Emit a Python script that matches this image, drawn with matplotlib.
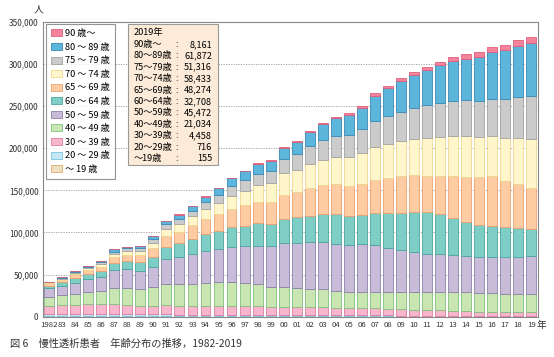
import matplotlib.pyplot as plt
import numpy as np
from matplotlib.patches import Patch, Rectangle

plt.rcParams['font.family'] = ['Noto Sans CJK JP', 'DejaVu Sans']

# 年次
years = list(range(1982, 2020))
year_labels = ['1982'] + ['%02d' % (y % 100) for y in years[1:]]

# 年齢階級別 患者数（千人, 図から読み取り）
u19 = [0.45, 0.45, 0.45, 0.45, 0.45, 0.45, 0.45, 0.4, 0.4, 0.4, 0.4, 0.35, 0.35, 0.35, 0.3, 0.3, 0.3, 0.3, 0.3,
       0.25, 0.25, 0.25, 0.25, 0.2, 0.2, 0.2, 0.2, 0.2, 0.2, 0.2, 0.2, 0.2, 0.2, 0.2, 0.15, 0.15, 0.15, 0.155]
a20 = [2.8, 2.8, 2.7, 2.6, 2.5, 2.4, 2.3, 2.2, 2.2, 2.2, 2.1, 2.1, 2.0, 2.0, 1.9, 1.9, 1.8, 1.8, 1.7,
       1.6, 1.6, 1.5, 1.4, 1.4, 1.3, 1.2, 1.2, 1.1, 1.1, 1.0, 1.0, 0.9, 0.9, 0.8, 0.8, 0.8, 0.75, 0.716]
a30 = [9.45, 10.65, 10.75, 11.65, 11.75, 11.85, 11.15, 10.1, 10.1, 10.9, 10.2, 10.25, 10.35, 10.35, 10.5, 10.5,
       10.2, 9.8, 9.9, 10.05, 10.05, 9.35, 8.65, 8.3, 8.4, 8.5, 7.7, 7.4, 6.6, 6.3, 6.3, 6.0, 5.2, 5.0, 4.65,
       4.25, 4.3, 4.458]
a40 = [11.1, 11.5, 13.1, 14.3, 15.5, 19.0, 19.8, 20.2, 22.2, 25.0, 25.8, 26.2, 27.4, 28.2, 28.6, 27.8, 26.6,
       23.8, 23.0, 21.8, 21.0, 21.4, 20.7, 19.9, 19.1, 19.9, 20.3, 20.7, 21.5, 21.9, 21.9, 22.3, 22.7, 21.8,
       22.2, 21.8, 21.4, 21.034]
a50 = [10.7, 11.5, 13.5, 15.4, 17.4, 21.9, 22.6, 21.5, 24.6, 29.8, 32.1, 35.3, 37.7, 39.3, 41.2, 43.6, 45.6,
       48.4, 52.4, 53.6, 55.6, 55.6, 55.5, 55.5, 56.7, 55.1, 52.7, 50.0, 47.6, 45.6, 44.8, 43.6, 42.8, 42.8,
       43.6, 44.4, 44.8, 45.472]
a60 = [2.5, 4.0, 5.5, 6.4, 6.8, 7.9, 10.0, 11.1, 11.9, 15.0, 16.7, 17.9, 20.2, 21.8, 23.8, 23.0, 26.6, 26.2,
       28.6, 30.6, 31.3, 34.1, 35.3, 34.5, 34.9, 38.1, 40.9, 43.6, 47.2, 49.6, 47.6, 44.1, 40.5, 38.5, 36.1,
       34.6, 33.8, 32.708]
a65 = [2.5, 2.8, 4.4, 4.8, 5.1, 7.1, 6.7, 7.5, 9.6, 12.7, 13.5, 16.2, 17.9, 19.8, 21.9, 25.0, 25.4, 26.2,
       28.9, 30.5, 33.0, 33.8, 35.3, 35.8, 37.3, 39.7, 42.1, 44.5, 43.7, 42.9, 45.7, 50.4, 53.2, 56.8, 59.2,
       55.5, 52.3, 48.274]
a70 = [1.1, 1.5, 1.6, 2.3, 2.8, 4.0, 5.2, 5.2, 6.7, 8.4, 9.5, 10.7, 11.9, 13.1, 14.7, 16.7, 20.2, 22.2,
       25.4, 25.8, 28.5, 30.1, 32.1, 33.6, 36.1, 39.2, 40.0, 41.5, 42.7, 44.3, 45.5, 47.5, 49.1, 47.9, 47.9,
       50.7, 54.7, 58.433]
a75 = [0.6, 1.2, 1.2, 1.2, 2.4, 2.4, 2.8, 3.5, 4.4, 5.5, 6.0, 6.8, 7.9, 9.9, 11.9, 13.7, 13.1, 14.3,
       16.7, 19.0, 21.4, 23.7, 25.4, 27.0, 28.5, 30.9, 33.6, 34.5, 37.6, 39.6, 41.2, 41.5, 42.7, 42.7, 44.3,
       45.9, 49.1, 51.316]
a80 = [0.45, 0.8, 1.0, 1.4, 1.7, 2.8, 2.0, 2.2, 3.5, 4.0, 5.0, 5.5, 6.8, 7.6, 9.4, 9.9, 11.8, 11.9,
       13.8, 14.6, 16.2, 19.0, 21.0, 22.9, 25.7, 29.7, 33.3, 36.4, 38.8, 41.6, 44.3, 46.8, 48.7, 52.3, 55.4,
       58.6, 60.2, 61.872]
a90 = [0.02, 0.03, 0.04, 0.05, 0.06, 0.08, 0.1, 0.1, 0.15, 0.2, 0.25, 0.3, 0.35, 0.4, 0.5, 0.6, 0.7, 0.9,
       1.2, 1.2, 1.6, 1.6, 1.9, 2.4, 2.0, 2.7, 2.5, 3.2, 4.0, 3.9, 4.4, 4.7, 5.6, 5.9, 5.6, 5.9, 7.1, 8.161]

# 2019年の内訳（図中の表）
box_labels = ['90歳～', '80～89歳', '75～79歳', '70～74歳', '65～69歳', '60～64歳',
              '50～59歳', '40～49歳', '30～39歳', '20～29歳', '～19歳']
box_values = ['8,161', '61,872', '51,316', '58,433', '48,274', '32,708',
              '45,472', '21,034', '4,458', '716', '155']

# 凡例（下から順）
series = [u19, a20, a30, a40, a50, a60, a65, a70, a75, a80, a90]
names = ['～ 19 歳', '20 ～ 29 歳', '30 ～ 39 歳', '40 ～ 49 歳', '50 ～ 59 歳', '60 ～ 64 歳',
         '65 ～ 69 歳', '70 ～ 74 歳', '75 ～ 79 歳', '80 ～ 89 歳', '90 歳～']
fills = ['#ECE0C2', '#C6E8F4', '#F8B6CD', '#C9E5B2', '#C9BCD9', '#7FCEC5',
         '#FDCCA3', '#FFF7CB', '#CBCBCB', '#5CB5DA', '#F4849B']
edges = ['#E6A868', '#78C2DE', '#E07CA2', '#80C07C', '#8C80AC', '#4AA69E',
         '#EEA070', '#EED890', '#A2A2A2', '#3A8AB6', '#DE5E7A']

fig = plt.figure(figsize=(5.54, 3.57), dpi=100)
ax = fig.add_axes([0.077, 0.113, 0.8935, 0.8255])

x = np.arange(len(years))
bottom = np.zeros(len(years))
handles = []
for vals, name, fc, ec in zip(series, names, fills, edges):
    v = np.array(vals) * 1000
    ax.bar(x, v, bottom=bottom, width=0.76, color=fc, edgecolor=ec, linewidth=0.6, zorder=3)
    bottom += v
    handles.append(Patch(facecolor=fc, edgecolor=ec, linewidth=0.6, label=name))

ax.set_xlim(-0.5, len(years) - 0.5)
ax.set_ylim(0, 350000)
ax.set_yticks(range(0, 350001, 50000))
ax.set_yticklabels(['{:,}'.format(t) for t in range(0, 350001, 50000)], fontsize=6)
ax.set_xticks(x)
ax.set_xticklabels(year_labels, fontsize=5.6)
ax.tick_params(length=0, pad=3, colors='#333333')
ax.grid(axis='y', linestyle=(0, (1.5, 1.5)), color='#999999', linewidth=0.6, zorder=0)
for s in ax.spines.values():
    s.set_color('#888888')
    s.set_linewidth(0.8)

leg = ax.legend(handles=handles[::-1], loc='upper left', bbox_to_anchor=(0.006, 0.993),
                fontsize=6.6, frameon=True, fancybox=False, edgecolor='#777777',
                labelspacing=0.5, handlelength=1.25, handleheight=0.8, handletextpad=0.3,
                borderpad=0.55, borderaxespad=0)
leg.get_frame().set_linewidth(0.8)

# 2019年の表
def fx(px):
    return px / 554.0

def fy(py):
    return 1 - py / 357.0

fig.patches.append(Rectangle((fx(128), fy(165)), fx(218) - fx(128), fy(24) - fy(165),
                             transform=fig.transFigure, facecolor='#FCEBD8', edgecolor='#999999',
                             linewidth=0.8, zorder=5))
fig.text(fx(134), fy(33), '2019年', fontsize=6.6, va='center', zorder=6)
for i, (lab, val) in enumerate(zip(box_labels, box_values)):
    yy = fy(44.5 + i * 11.4)
    fig.text(fx(134), yy, lab, fontsize=6.6, va='center', zorder=6)
    fig.text(fx(177), yy, ':', fontsize=6.6, va='center', ha='center', zorder=6)
    fig.text(fx(212), yy, val, fontsize=6.6, va='center', ha='right', zorder=6)

fig.text(fx(38), fy(9), '人', fontsize=7, ha='center', va='center', color='#333333')
fig.text(fx(541), fy(325), '年', fontsize=7, ha='center', va='center', color='#333333')
fig.text(fx(10), fy(344), '図 6　慢性透析患者　年齢分布の推移，1982-2019', fontsize=7.4,
         ha='left', va='center', color='#333333')

fig.savefig('out.png', dpi=100)
